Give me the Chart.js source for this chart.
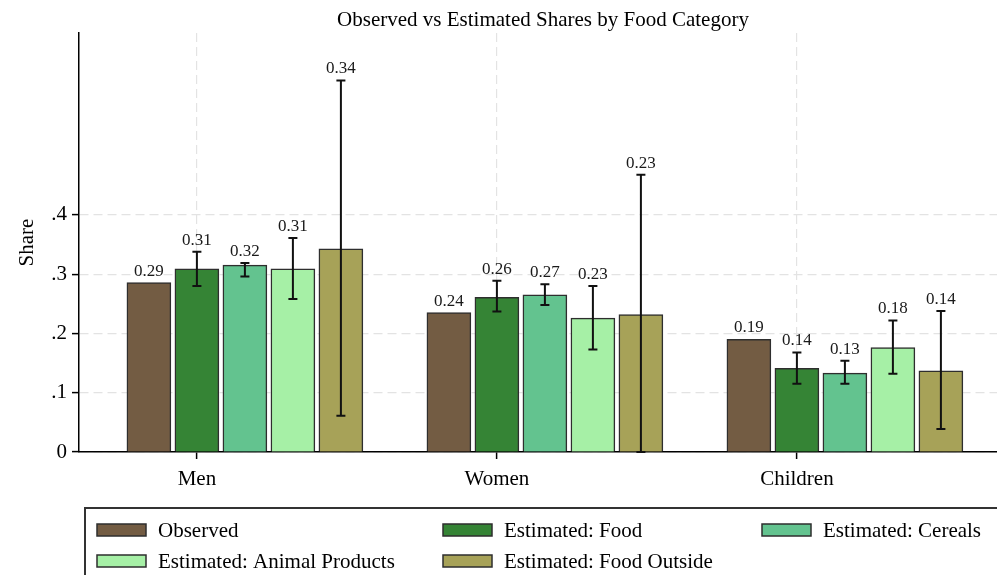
<!DOCTYPE html>
<html><head><meta charset="utf-8">
<script src="https://cdn.jsdelivr.net/npm/chart.js@4/dist/chart.umd.min.js"></script>
<style>html,body{margin:0;padding:0;background:#fff}#wrap{width:997px;height:575px;position:relative}</style>
</head><body><div id="wrap"><canvas id="c"></canvas></div>
<script>
const chartTitle = 'Observed vs Estimated Shares by Food Category';
const yTitle = 'Share';
const categories = ['Men', 'Women', 'Children'];
const seriesNames = ['Observed', 'Estimated: Food', 'Estimated: Cereals', 'Estimated: Animal Products', 'Estimated: Food Outside'];
const observed   = [0.286, 0.2352, 0.190];
const estFood    = [0.309, 0.261, 0.141];
const estCereals = [0.3152, 0.2652, 0.133];
const estAnimal  = [0.309, 0.226, 0.176];
const estOutside = [0.343, 0.232, 0.137];
const foodLow    = [0.280, 0.237, 0.115];
const foodHigh   = [0.338, 0.289, 0.168];
const cerealsLow = [0.296, 0.248, 0.115];
const cerealsHigh= [0.319, 0.283, 0.154];
const animalLow  = [0.258, 0.173, 0.132];
const animalHigh = [0.361, 0.280, 0.222];
const outsideLow = [0.061, 0.000, 0.039];
const outsideHigh= [0.627, 0.468, 0.238];
const yTicks = [0, 0.1, 0.2, 0.3, 0.4];

const colors = ['#735C43', '#358435', '#63C38F', '#A6F0A6', '#A7A258'];
const values = [observed, estFood, estCereals, estAnimal, estOutside];
const lows = [null, foodLow, cerealsLow, animalLow, outsideLow];
const highs = [null, foodHigh, cerealsHigh, animalHigh, outsideHigh];
const barStep = 0.16; // spacing between bars within a group (axis units)
const FONT = "'Liberation Serif', 'Times New Roman', serif";

const datasets = seriesNames.map((name, i) => ({
  label: name,
  data: values[i].map((v, j) => ({ x: j + (i - 1) * barStep, y: v })),
  backgroundColor: colors[i],
  borderColor: '#2e2e2e',
  borderWidth: 1.5,
  barThickness: 44,
  grouped: false,
  errLow: lows[i],
  errHigh: highs[i]
}));

const extrasPlugin = {
  id: 'extras',
  afterDatasetsDraw(chart) {
    const ctx = chart.ctx, ys = chart.scales.y;
    ctx.save();
    chart.data.datasets.forEach((ds, i) => {
      const meta = chart.getDatasetMeta(i);
      meta.data.forEach((el, j) => {
        const v = ds.data[j].y;
        let topVal = v;
        if (ds.errLow && ds.errHigh) {
          const yl = ys.getPixelForValue(ds.errLow[j]);
          const yh = ys.getPixelForValue(ds.errHigh[j]);
          topVal = Math.max(v, ds.errHigh[j]);
          ctx.strokeStyle = '#111';
          ctx.lineWidth = 2;
          ctx.beginPath();
          ctx.moveTo(el.x, yl); ctx.lineTo(el.x, yh);
          ctx.moveTo(el.x - 4.5, yl); ctx.lineTo(el.x + 4.5, yl);
          ctx.moveTo(el.x - 4.5, yh); ctx.lineTo(el.x + 4.5, yh);
          ctx.stroke();
        }
        ctx.fillStyle = '#1a1a1a';
        ctx.font = '17px ' + FONT;
        ctx.textAlign = 'center';
        ctx.textBaseline = 'alphabetic';
        ctx.fillText(v.toFixed(2), el.x, ys.getPixelForValue(topVal) - 7);
      });
    });
    ctx.restore();
  },
  afterDraw(chart) {
    const ctx = chart.ctx;
    ctx.save();
    ctx.fillStyle = '#000';
    ctx.font = '21px ' + FONT;
    ctx.textAlign = 'center';
    ctx.textBaseline = 'alphabetic';
    ctx.fillText(chartTitle, 543, 26);
    ctx.strokeStyle = '#333';
    ctx.lineWidth = 2;
    ctx.strokeRect(85, 508, 1000, 100);
    const pos = [[97, 530], [443, 530], [762, 530], [97, 561], [443, 561]];
    chart.data.datasets.forEach((ds, i) => {
      const [x, y] = pos[i];
      ctx.fillStyle = ds.backgroundColor;
      ctx.fillRect(x, y - 6, 49, 12);
      ctx.strokeStyle = '#2e2e2e';
      ctx.lineWidth = 1.5;
      ctx.strokeRect(x, y - 6, 49, 12);
      ctx.fillStyle = '#000';
      ctx.font = '21px ' + FONT;
      ctx.textAlign = 'left';
      ctx.textBaseline = 'middle';
      ctx.fillText(ds.label, x + 61, y + 1);
    });
    ctx.restore();
  }
};

new Chart(document.getElementById('c'), {
  type: 'bar',
  data: { datasets },
  options: {
    responsive: true,
    maintainAspectRatio: false,
    animation: false,
    layout: { padding: { top: 33, bottom: 78, left: 0, right: 0 } },
    plugins: { legend: { display: false }, title: { display: false }, tooltip: { enabled: false } },
    scales: {
      x: {
        type: 'linear',
        offset: false,
        min: -0.393,
        max: 2.667,
        afterBuildTicks: (s) => { s.ticks = categories.map((c, j) => ({ value: j })); },
        afterFit: (s) => { s.height = 45; },
        ticks: {
          autoSkip: false, maxRotation: 0, padding: 8,
          color: '#000', font: { family: FONT, size: 21 },
          callback: (v) => categories[v]
        },
        grid: { offset: false, color: '#e3e3e3', lineWidth: 1.2, tickLength: 7, tickColor: '#000', tickWidth: 1.5 },
        border: { display: true, color: '#000', width: 1.5, dash: [9, 5] }
      },
      y: {
        min: 0,
        max: 0.707,
        afterBuildTicks: (s) => { s.ticks = yTicks.map(v => ({ value: v })); },
        afterFit: (s) => { s.width = 79; },
        ticks: {
          padding: 5, color: '#000', font: { family: FONT, size: 21 },
          callback: (v) => v === 0 ? '0' : '.' + Math.round(v * 10)
        },
        grid: { color: '#e3e3e3', lineWidth: 1.2, tickLength: 7, tickColor: '#000', tickWidth: 1.5 },
        border: { display: true, color: '#000', width: 1.5, dash: [9, 5] },
        title: { display: true, text: yTitle, color: '#000', font: { family: FONT, size: 21 }, padding: { top: 15, bottom: 0 } }
      }
    }
  },
  plugins: [extrasPlugin]
});
</script>
</body></html>
